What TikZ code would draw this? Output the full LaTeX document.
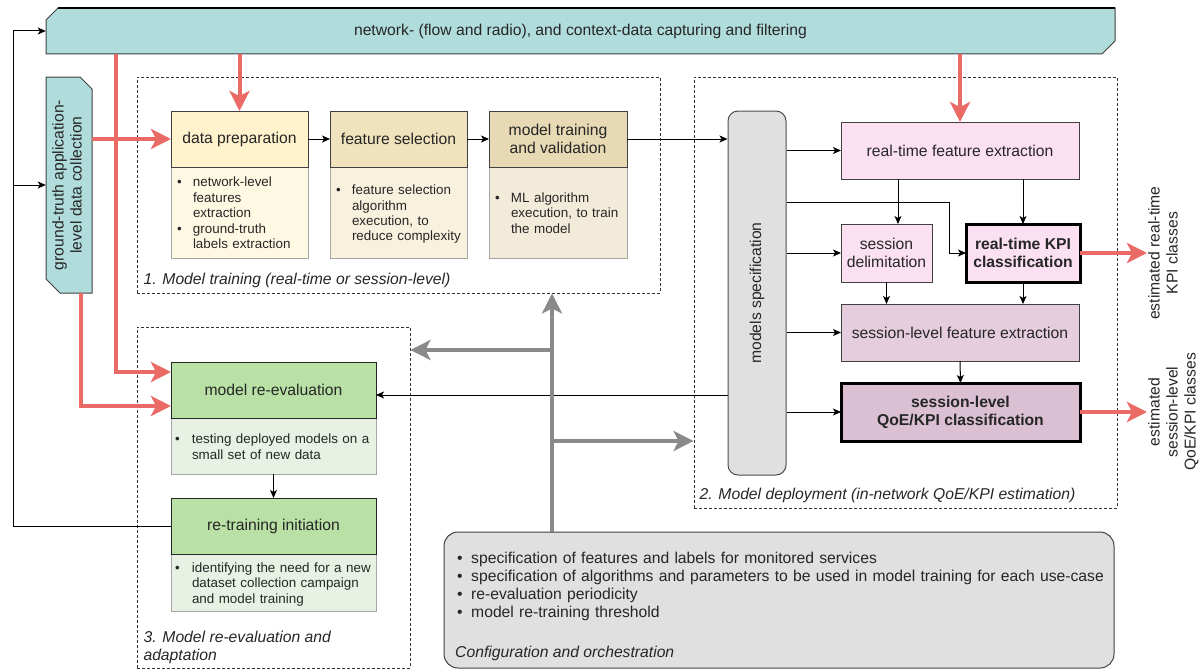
\documentclass[tikz,border=0pt]{standalone}
\usepackage{fontspec}
\setmainfont{Liberation Sans}
\usetikzlibrary{arrows.meta}

\definecolor{tealfill}{HTML}{B0DDDB}
\definecolor{prepfill}{HTML}{FFF2CC}
\definecolor{prepbody}{HTML}{FFF8E3}
\definecolor{selfill}{HTML}{F0E2BD}
\definecolor{selbody}{HTML}{F8F1DE}
\definecolor{trainfill}{HTML}{E6D9B3}
\definecolor{trainbody}{HTML}{F2EBD9}
\definecolor{pinkfill}{HTML}{FAE0F1}
\definecolor{mauvefill}{HTML}{E6CDDD}
\definecolor{mauvedark}{HTML}{DAC0D2}
\definecolor{greenfill}{HTML}{B9E0A5}
\definecolor{greenbody}{HTML}{E8F2E4}
\definecolor{greyfill}{HTML}{E0E0E0}
\definecolor{redline}{HTML}{EA6B66}
\definecolor{greyline}{HTML}{8A8A8A}

\newcommand{\mainsize}{\fontsize{15.7}{18}\selectfont}
\newcommand{\smallsize}{\fontsize{13.4}{15.3}\selectfont}
\newcommand{\bul}[2][16pt]{\par\noindent\makebox[#1][l]{\textbullet}\begin{tabular}[t]{@{}l@{}}#2\end{tabular}}

\begin{document}
\begin{tikzpicture}[x=1pt,y=-1pt,>={Stealth[length=8pt,width=7pt,inset=2pt]},
  font=\mainsize,text=black!85,
  hdr/.style={draw=black!75,line width=1pt,minimum height=56pt,align=center,inner sep=2pt,outer sep=0pt,anchor=south},
  body/.style={draw=black!35,line width=1pt,anchor=north,align=left,inner xsep=6pt,inner ysep=0pt,outer sep=0pt,font=\smallsize},
  pbox/.style={draw=black!75,line width=1pt,minimum height=57pt,align=center,inner sep=2pt,outer sep=0pt},
  strong/.style={draw=black,line width=3pt,font=\mainsize\bfseries},
  phase/.style={draw=black!80,line width=0.9pt,dash pattern=on 3pt off 2pt},
  conn/.style={->,black,line width=1pt},
  feed/.style={redline,line width=4pt,-{Stealth[length=20pt,width=20pt,inset=5pt]}},
  cfg/.style={greyline,line width=4pt,-{Stealth[length=20pt,width=20pt,inset=5pt]}}]
  \useasboundingbox (0,0) rectangle (1204,669);

  \node[phase,minimum width=523pt,minimum height=216pt] (box1) at (398.5,185) {};
  \node[phase,minimum width=423pt,minimum height=431pt] (box2) at (905.5,292.5) {};
  \node[phase,minimum width=273pt,minimum height=341pt] (box3) at (273.5,497.5) {};
  \node[anchor=west,font=\mainsize\itshape] (lab1) at (140,280) {1. Model training (real-time or session-level)};
  \node[anchor=west,font=\mainsize\itshape] (lab2) at (696,495) {2. Model deployment (in-network QoE/KPI estimation)};
  \node[anchor=north west,align=left,font=\mainsize\itshape] (lab3) at (140,628) {3. Model re-evaluation and\\adaptation};

  \draw[draw=black!75,fill=tealfill,line width=1pt]
    (46,20) -- (58,8) -- (1115,8) -- (1115,41) -- (1102,54) -- (46,54) -- cycle;
  \draw[line width=2.5pt] (58,8) -- (1115,8);
  \node[minimum width=1069pt,minimum height=46pt] (net) at (580.5,31)
    {network- (flow and radio), and context-data capturing and filtering};
  \draw[draw=black!75,fill=tealfill,line width=1pt]
    (46,77) -- (80,77) -- (92,89) -- (92,293) -- (60,293) -- (46,279) -- cycle;
  \node[minimum width=46pt,minimum height=216pt,inner sep=0pt] (gt) at (69,185)
    {\rotatebox{90}{\begin{tabular}{@{}c@{}}ground-truth application-\\level data collection\end{tabular}}};

  \node[body,fill=prepbody,text width=125pt,minimum height=91pt] (dprepb) at (239.5,167)
    {\bul{network-level\\features\\extraction}\bul{ground-truth\\labels extraction}};
  \node[hdr,fill=prepfill,minimum width=137pt] (dprep) at (dprepb.north) {data preparation};
  \node[body,fill=selbody,text width=125pt,minimum height=91pt] (fselb) at (398.5,167)
    {\bul{feature selection\\algorithm\\execution, to\\reduce complexity}};
  \node[hdr,fill=selfill,minimum width=137pt] (fsel) at (fselb.north) {feature selection};
  \node[body,fill=trainbody,text width=126pt,minimum height=91pt] (mtrainb) at (558,167)
    {\bul{ML algorithm\\execution, to train\\the model}};
  \node[hdr,fill=trainfill,minimum width=138pt] (mtrain) at (mtrainb.north) {model training\\and validation};

  \node[draw=black!70,fill=greyfill,line width=1pt,rounded corners=10pt,minimum width=58pt,minimum height=364pt]
    (spec) at (757,293) {\rotatebox{90}{models specification}};

  \node[pbox,fill=pinkfill,minimum width=238pt] (rtfe) at (960,150.5) {real-time feature extraction};
  \node[pbox,fill=pinkfill,minimum width=91pt,minimum height=58pt] (sdel) at (886.5,253) {session\\delimitation};
  \node[pbox,strong,fill=pinkfill,minimum width=114pt,minimum height=58pt] (rtkpi) at (1023,253) {real-time KPI\\classification};
  \node[pbox,fill=mauvefill,minimum width=238pt] (slfe) at (960,332.5) {session-level feature extraction};
  \node[pbox,strong,fill=mauvedark,minimum width=239pt,minimum height=58pt] (slqoe) at (960.5,412) {session-level\\QoE/KPI classification};
  \node[rotate=90,anchor=north,align=center,inner sep=1pt] (rtlab) at (1147,253) {estimated real-time\\KPI classes};
  \node[rotate=90,anchor=north,align=center,inner sep=1pt] (sllab) at (1147,412) {estimated\\session-level\\QoE/KPI classes};

  \node[body,fill=greenbody,text width=197pt,inner xsep=4pt,minimum height=56pt] (reevalb) at (273.5,418)
    {\bul[17pt]{testing deployed models on a\\small set of new data}};
  \node[hdr,fill=greenfill,draw=black!85,minimum width=205pt] (reeval) at (reevalb.north) {model re-evaluation};
  \node[body,fill=greenbody,text width=197pt,inner xsep=4pt,minimum height=57pt] (retrainb) at (273.5,554)
    {\bul[17pt]{identifying the need for a new\\dataset collection campaign\\and model training}};
  \node[hdr,fill=greenfill,draw=black!85,minimum width=205pt] (retrain) at (retrainb.north) {re-training initiation};

  \node[draw=black!75,fill=greyfill,line width=1pt,rounded corners=14pt,minimum width=670pt,minimum height=136pt]
    (config) at (779,600) {};
  \node[anchor=north west,text width=650pt,align=left,inner sep=0pt] (cfgtext) at (457,545)
    {\bul[14pt]{specification of features and labels for monitored services}%
     \bul[14pt]{specification of algorithms and parameters to be used in model training for each use-case}%
     \bul[14pt]{re-evaluation periodicity}%
     \bul[14pt]{model re-training threshold}};
  \node[anchor=west,font=\mainsize\itshape,inner sep=0pt] (cfglab) at (455,653) {Configuration and orchestration};

  \draw[conn] (dprep.east) -- (fsel.west);
  \draw[conn] (fsel.east) -- (mtrain.west);
  \draw[conn] (mtrain.east) -- (mtrain.east -| spec.west);
  \foreach \t in {rtfe,sdel,slfe,slqoe}
    \draw[conn] (spec.east |- \t.west) -- (\t.west);
  \coordinate (kink) at (949,202);
  \draw[conn] (spec.east |- kink) -- (kink) |- (rtkpi.west);
  \draw[conn] ([xshift=11.5pt]sdel.north |- rtfe.south) -- ([xshift=11.5pt]sdel.north);
  \draw[conn] (rtkpi.north |- rtfe.south) -- (rtkpi.north);
  \draw[conn] (sdel.south) -- (sdel.south |- slfe.north);
  \draw[conn] (rtkpi.south) -- (rtkpi.south |- slfe.north);
  \draw[conn] (slfe.south) -- (slqoe.north);
  \coordinate (evalin) at ([yshift=-5pt]reeval.east);
  \draw[conn] (evalin -| spec.west) -- (evalin);
  \draw[conn] (reevalb.south) -- (retrain.north);
  \coordinate (back) at (13,526);
  \draw[conn] (retrain.west) -- (back) |- (net.west);
  \draw[conn] (back |- gt) -- (gt.west);

  \coordinate (stem) at (552,532);
  \coordinate (j1) at (552,350);
  \coordinate (j2) at (552,441);
  \draw[cfg] (stem) -- (stem |- box1.south);
  \draw[cfg] (j1) -- (j1 -| box3.east);
  \draw[cfg] (j2) -- (j2 -| box2.west);

  \draw[feed] ([xshift=70pt]net.south west) |- ([yshift=18pt]reeval.west);
  \draw[feed] ([xshift=12pt]gt.south) |- ([yshift=-16pt]reeval.west);
  \draw[feed] (gt.east |- dprep) -- (dprep.west);
  \draw[feed] (dprep.north |- net.south) -- (dprep.north);
  \draw[feed] (rtfe.north |- net.south) -- (rtfe.north);
  \draw[feed] (rtkpi.east) -- (rtlab.north);
  \draw[feed] (slqoe.east) -- (sllab.north);
\end{tikzpicture}
\end{document}
